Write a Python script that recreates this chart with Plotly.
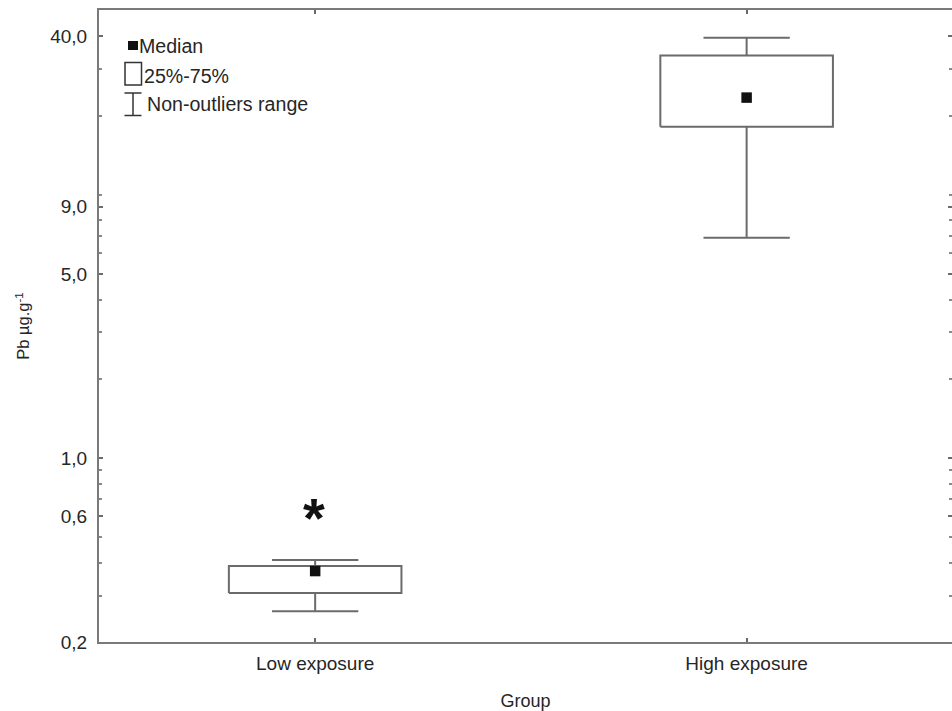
import numpy as np
import plotly.graph_objects as go

# ---- data ----
groups = ["Low exposure", "High exposure"]
median = [0.372, 23.4]
q1 = [0.307, 18.15]
q3 = [0.389, 33.8]
whisk_lo = [0.262, 6.87]
whisk_hi = [0.410, 39.5]
sig_group = 0            # group marked with asterisk
sig_value = 0.62         # position of asterisk

y_tickvals = [0.2, 0.6, 1.0, 5.0, 9.0, 40.0]
y_minor = [0.3, 0.4, 0.5, 0.7, 0.8, 0.9, 2, 3, 4, 6, 7, 8, 10, 20, 30]

legend_labels = ["Median", "25%-75%", "Non-outliers range"]

# ---- style ----
FONT = "Liberation Sans, Arial, sans-serif"
TXT = "#262626"
LINE = "#6b6b6b"
BOX_HALF = 0.2
CAP_HALF = 0.1

W, H = 952, 711
ML, MR, MT, MB = 99, 0, 10, 69
PW, PH = W - ML - MR, H - MT - MB

fig = go.Figure()

xs = list(range(len(groups)))
for i, x in enumerate(xs):
    bx = [x - BOX_HALF, x + BOX_HALF, x + BOX_HALF, x - BOX_HALF, x - BOX_HALF]
    by = [q1[i], q1[i], q3[i], q3[i], q1[i]]
    # whiskers and caps
    wx = [None, x, x, None, x, x, None,
          x - CAP_HALF, x + CAP_HALF, None, x - CAP_HALF, x + CAP_HALF]
    wy = [None, q3[i], whisk_hi[i], None, q1[i], whisk_lo[i], None,
          whisk_hi[i], whisk_hi[i], None, whisk_lo[i], whisk_lo[i]]
    fig.add_trace(go.Scatter(
        x=bx + wx, y=by + wy, mode="lines",
        line=dict(color=LINE, width=2), hoverinfo="skip", showlegend=False,
    ))

fig.add_trace(go.Scatter(
    x=xs, y=median, mode="markers",
    marker=dict(symbol="square", size=10.5, color="#111111"),
    showlegend=False, name="Median",
))

# significance asterisk
fig.add_annotation(
    x=xs[sig_group], y=np.log10(sig_value), xref="x", yref="y",
    text="<b>*</b>", showarrow=False,
    font=dict(family=FONT, size=56, color="#111111"),
    yshift=-5, xshift=-1,
)

# ---- legend drawn in pixel positions ----
def px(xp):
    return (xp - ML) / PW

def py(yp):
    return (H - MB - yp) / PH

shapes = []
# median square
shapes.append(dict(type="rect", xref="paper", yref="paper",
                   x0=px(128), x1=px(138), y0=py(50), y1=py(41),
                   fillcolor="#111111", line=dict(width=0)))
# box icon
shapes.append(dict(type="rect", xref="paper", yref="paper",
                   x0=px(125), x1=px(141.5), y0=py(85), y1=py(62.5),
                   fillcolor="rgba(0,0,0,0)", line=dict(color="#333333", width=1.5)))
# whisker icon
for y0, y1, x0, x1 in [(93, 93, 124.5, 141.5), (115.5, 115.5, 124.5, 141.5), (93, 115.5, 133, 133)]:
    shapes.append(dict(type="line", xref="paper", yref="paper",
                       x0=px(x0), x1=px(x1), y0=py(y0), y1=py(y1),
                       line=dict(color="#333333", width=1.5)))

legend_pos = [(137, 46.5), (142, 76), (144.5, 104)]
for lab, (lx, ly) in zip(legend_labels, legend_pos):
    fig.add_annotation(x=px(lx), y=py(ly), xref="paper", yref="paper",
                       text=lab, showarrow=False, xanchor="left", yanchor="middle",
                       font=dict(family=FONT, size=19.6, color=TXT))

fig.update_layout(
    width=W, height=H,
    margin=dict(l=ML, r=MR, t=MT, b=MB, autoexpand=False),
    paper_bgcolor="white", plot_bgcolor="white",
    separators=",.",
    font=dict(family=FONT, size=19, color=TXT),
    shapes=shapes,
    showlegend=False,
)

fig.update_xaxes(
    range=[-0.501, 1.476],
    tickmode="array", tickvals=xs, ticktext=groups,
    ticks="inside", ticklen=4, tickcolor=LINE, tickwidth=1.5,
    showline=True, linecolor="#7a7a7a", linewidth=2, mirror="ticks",
    showgrid=False, zeroline=False,
    ticklabelstandoff=3,
    tickfont=dict(size=19, color=TXT),
    title=dict(text="Group", font=dict(size=18, color=TXT), standoff=22),
    automargin=False,
)

fig.update_yaxes(
    type="log",
    range=[np.log10(0.2), 1.702],
    tickmode="array", tickvals=y_tickvals, tickformat=".1f",
    ticks="inside", ticklen=4, tickcolor=LINE, tickwidth=1.5,
    minor=dict(tickvals=y_minor, ticks="inside", ticklen=3, tickcolor="#8a8a8a", showgrid=False),
    showline=True, linecolor="#7a7a7a", linewidth=2, mirror="ticks",
    showgrid=False, zeroline=False,
    ticklabelstandoff=6,
    tickfont=dict(size=19, color=TXT),
    title=dict(text="Pb µg.g<sup>-1</sup>", font=dict(size=16.5, color=TXT), standoff=16),
    automargin=False,
)

fig.write_html("out.html")
